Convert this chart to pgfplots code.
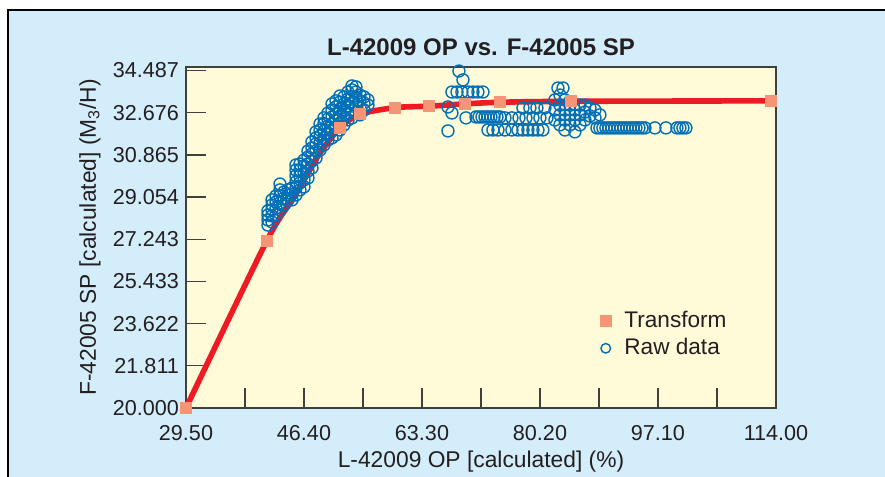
\documentclass[border=0pt]{standalone}
\usepackage{pgfplots}
\pgfplotsset{compat=1.18}
\usepackage{fontspec}
\setmainfont{Liberation Sans}
\definecolor{panel}{RGB}{212,237,250}
\definecolor{plotbg}{RGB}{255,250,215}
\definecolor{redline}{RGB}{237,28,36}
\definecolor{salmon}{RGB}{246,148,118}
\definecolor{rawblue}{RGB}{0,112,185}
\definecolor{axisgray}{RGB}{64,64,64}
\definecolor{txt}{RGB}{35,31,32}
\pgfplotsset{mylegend/.style={legend image code/.code={\draw[##1] plot coordinates {(0.3cm,0cm)}; \path (0cm,0cm) (0.55cm,0cm);}}}
\begin{document}
\begin{tikzpicture}
\useasboundingbox (-93pt,-34.5pt) rectangle (349.5pt,204pt);
\fill[white] (-93pt,-34.5pt) rectangle (349.5pt,204pt);
\fill[panel] (-89pt,-34.5pt) rectangle (349.5pt,199pt);
\draw[black, line width=1.2pt] (-89pt,-34.5pt) -- (-89pt,199pt) -- (349.5pt,199pt);
\begin{axis}[
  scale only axis, width=295pt, height=170.7pt,
  xmin=29.5, xmax=114, ymin=20, ymax=34.65,
  clip=false,
  axis background/.style={fill=plotbg},
  axis line style={draw=axisgray, line width=1pt},
  tick align=inside, tick pos=left,
  major tick length=10pt, minor tick length=10pt,
  every tick/.style={axisgray, line width=0.7pt},
  xtick={29.5,46.4,63.3,80.2,97.1,114},
  xticklabels={29.50,46.40,63.30,80.20,97.10,114.00},
  minor xtick={37.95,54.85,71.75,88.65,105.55},
  ytick={20,21.811,23.622,25.433,27.243,29.054,30.865,32.676,34.487},
  yticklabels={20.000,21.811,23.622,25.433,27.243,29.054,30.865,32.676,34.487},
  /pgf/number format/assume math mode=true,
  ticklabel style={font=\fontsize{10.8}{13}\selectfont, text=txt},
  xticklabel style={yshift=-5pt},
  xlabel={L-42009 OP [calculated] (\%)},
  ylabel={F-42005 SP [calculated] (M\textsubscript{3}/H)},
  label style={font=\fontsize{11.4}{13}\selectfont, text=txt},
  xlabel style={at={(axis description cs:0.5,-0.158)}, anchor=center},
  ylabel style={at={(axis description cs:-0.1627,0.5)}, anchor=center},
  title={\bfseries L-42009 OP vs. F-42005 SP},
  title style={at={(axis description cs:0.5,1.022)}, anchor=center, font=\fontsize{12}{14}\selectfont, text=txt},
  legend style={draw=none, fill=none, at={(axis description cs:0.671,0.308)}, anchor=north west, font=\fontsize{11.3}{13}\selectfont, text=txt, row sep=0pt},
  legend cell align=left,
]
\addlegendimage{mylegend, mark=square*, mark size=2.75pt, color=salmon}
\addlegendentry{Transform}
\addlegendimage{mylegend, mark=o, mark size=2.4pt, mark options={line width=0.7pt, draw=rawblue}, draw=rawblue}
\addlegendentry{Raw data}

\addplot[forget plot, only marks, mark=o, mark size=3pt, mark options={line width=0.7pt, draw=rawblue}] coordinates {
(41.24,27.85)(41.24,28.07)(41.24,28.28)(41.24,28.46)
(41.82,27.98)(41.82,28.24)(41.82,28.50)(41.82,28.71)(41.82,28.93)
(42.39,28.28)(42.39,28.58)(42.39,28.84)(42.39,29.10)
(42.96,28.50)(42.96,28.80)(42.96,29.10)(42.96,29.36)(42.96,29.61)
(43.53,28.71)(43.53,29.01)(43.53,29.27)
(44.11,28.93)(44.11,29.14)(44.11,29.36)
(44.68,28.93)(44.68,29.18)(44.68,29.44)
(45.25,29.14)(45.25,29.44)(45.25,29.70)(45.25,29.96)(45.25,30.21)(45.25,30.43)
(45.82,29.36)(45.82,29.66)(45.82,29.96)(45.82,30.21)(45.82,30.47)
(46.40,29.49)(46.40,29.79)(46.40,30.09)(46.40,30.39)(46.40,30.64)
(46.97,29.87)(46.97,30.17)(46.97,30.47)(46.97,30.77)(46.97,31.03)
(47.54,30.30)(47.54,30.60)(47.54,30.90)(47.54,31.16)(47.54,31.42)
(48.12,30.73)(48.12,31.03)(48.12,31.33)(48.12,31.59)(48.12,31.85)
(48.69,31.07)(48.69,31.37)(48.69,31.67)(48.69,31.93)(48.69,32.19)
(49.26,31.29)(49.26,31.59)(49.26,31.89)(49.26,32.19)(49.26,32.45)
(49.83,31.50)(49.83,31.80)(49.83,32.10)(49.83,32.40)(49.83,32.66)
(50.41,31.59)(50.41,31.89)(50.41,32.19)(50.41,32.49)(50.41,32.79)(50.41,33.05)
(50.98,31.72)(50.98,32.02)(50.98,32.32)(50.98,32.62)(50.98,32.92)(50.98,33.18)
(51.55,31.93)(51.55,32.23)(51.55,32.53)(51.55,32.83)(51.55,33.13)(51.55,33.39)
(52.13,32.15)(52.13,32.45)(52.13,32.75)(52.13,33.05)(52.13,33.35)
(52.70,32.36)(52.70,32.66)(52.70,32.96)(52.70,33.26)(52.70,33.56)
(53.27,32.45)(53.27,32.75)(53.27,33.05)(53.27,33.35)(53.27,33.65)(53.27,33.82)
(53.84,32.70)(53.84,33.00)(53.84,33.31)(53.84,33.56)(53.84,33.78)
(54.42,32.58)(54.42,32.88)(54.42,33.18)(54.42,33.43)
(54.99,32.79)(54.99,33.09)(54.99,33.35)
(55.56,33.00)(55.56,33.22)
(68.59,34.46)(69.17,34.08)
(67.59,33.56)(68.31,33.56)(69.02,33.56)(69.88,33.56)(70.60,33.56)(71.31,33.56)(72.03,33.56)
(67.02,32.92)(67.59,32.66)(67.02,31.89)(69.60,32.45)
(71.03,32.49)(71.46,32.49)(71.89,32.49)(72.32,32.49)(72.75,32.49)(73.18,32.49)(73.61,32.49)(74.04,32.49)(74.46,32.49)
(72.75,31.93)(73.46,31.93)(74.18,31.93)(75.18,31.93)(76.18,31.93)(77.04,31.93)(77.76,31.93)(78.47,31.93)(79.19,31.93)(79.91,31.93)(80.62,31.93)
(75.18,32.45)(76.18,32.45)(77.19,32.45)(78.19,32.45)(79.19,32.45)(80.19,32.45)(81.20,32.45)
(77.76,32.88)(78.76,32.88)(79.76,32.88)(80.91,32.88)
(82.34,33.22)(82.34,32.79)(82.34,32.36)
(82.77,33.73)(83.49,33.73)
(83.06,33.43)(83.06,33.00)(83.06,32.58)(83.06,32.15)
(83.77,33.22)(83.77,32.79)(83.77,32.36)(83.77,31.93)
(84.49,33.00)(84.49,32.58)(84.49,32.15)
(85.20,32.79)(85.20,32.36)(85.20,31.85)
(85.92,33.00)(85.92,32.58)(85.92,32.15)
(86.64,33.00)(86.64,32.70)(86.64,32.36)
(87.35,32.88)(87.35,32.53)
(88.07,32.79)(88.07,32.45)
(88.78,32.58)
(88.36,32.02)(88.78,32.02)(89.21,32.02)(89.64,32.02)(90.07,32.02)(90.50,32.02)(90.93,32.02)(91.36,32.02)(91.79,32.02)(92.22,32.02)(92.65,32.02)(93.08,32.02)(93.51,32.02)(93.94,32.02)(94.37,32.02)(94.80,32.02)(95.23,32.02)(96.66,32.02)(98.24,32.02)(99.81,32.02)(100.24,32.02)(100.67,32.02)(101.10,32.02)
};

\addplot[forget plot, redline, line width=2.8pt, smooth, tension=0.45] coordinates {
(29.5,20.0)(41.06,27.17)(45.0,29.06)(48.5,30.85)(51.55,32.03)(54.42,32.61)(59.43,32.89)(64.23,32.95)(69.45,33.05)(74.46,33.12)(84.63,33.16)(113.27,33.18)
};

\addplot[forget plot, only marks, mark=square*, mark size=2.75pt, color=salmon] coordinates {
(29.5,20.0)(41.06,27.17)(51.55,32.03)(54.42,32.61)(59.43,32.89)(64.23,32.95)(69.45,33.05)(74.46,33.12)(84.63,33.16)(113.27,33.18)
};
\end{axis}
\end{tikzpicture}
\end{document}
